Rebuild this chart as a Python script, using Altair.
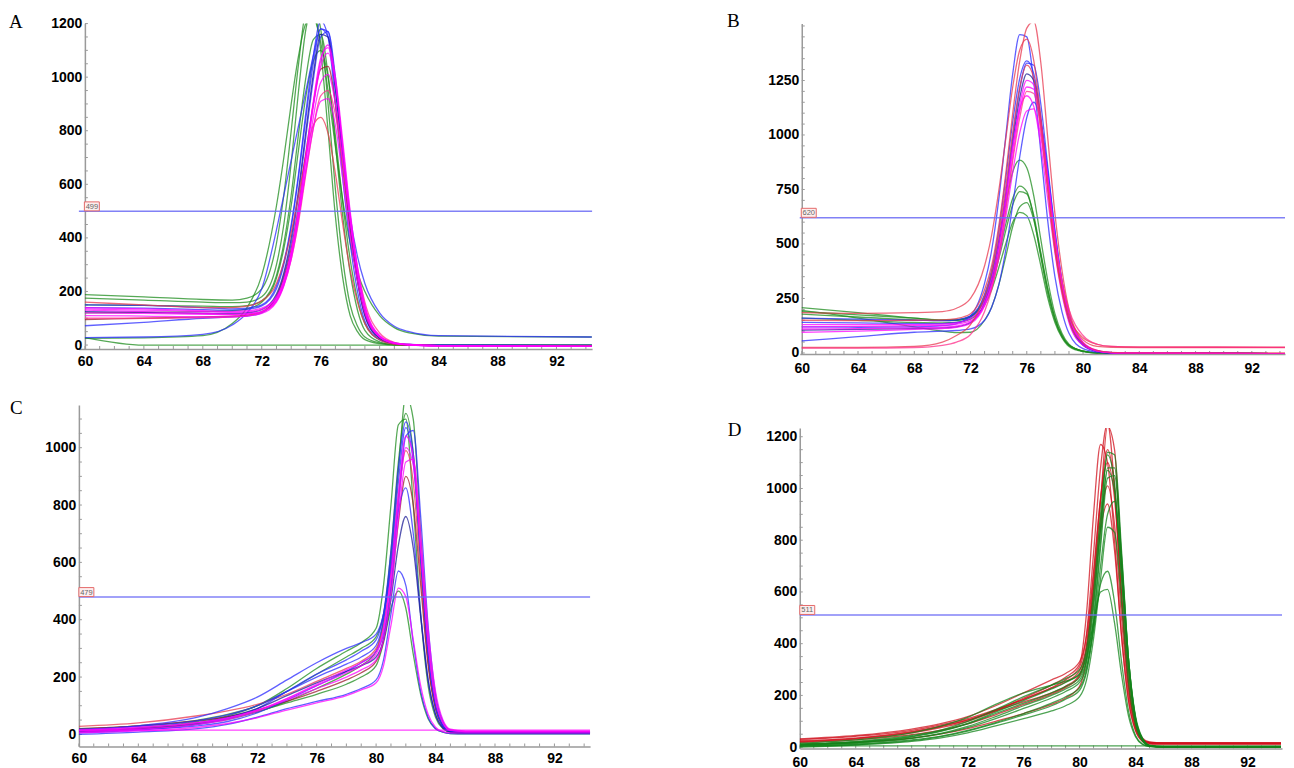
import altair as alt
import pandas as pd

# ---------------- temperature grids ----------------
T_AB = [60, 64, 68, 70, 71, 72, 73, 73.5, 74, 74.5, 75, 75.5, 76, 76.5, 77, 77.5, 78, 78.5, 79, 80, 81, 82, 84, 94.4]
T_CD = [60, 64, 68, 70, 72, 74, 76, 78, 79, 80, 80.5, 81, 81.5, 82, 82.5, 83, 83.5, 84, 84.5, 85, 86, 94.4]

X_TICKS = [60, 64, 68, 72, 76, 80, 84, 88, 92]
X_MINOR = list(range(60, 95))
A_YTICKS = [0, 200, 400, 600, 800, 1000, 1200]
B_YTICKS = [0, 250, 500, 750, 1000, 1250]
C_YTICKS = [0, 200, 400, 600, 800, 1000]
D_YTICKS = [0, 200, 400, 600, 800, 1000, 1200]
A_YMINOR = list(range(0, 1201, 50))
B_YMINOR = list(range(0, 1501, 50))
C_YMINOR = list(range(0, 1101, 50))
D_YMINOR = list(range(0, 1201, 50))

A_THRESHOLD = 499
B_THRESHOLD = 620
C_THRESHOLD = 479
D_THRESHOLD = 511

# ---------------- panel A curves ----------------
A_g1 = [188, 180, 170, 168, 175, 210, 380, 560, 800, 1050, 1240, 1250, 1100, 800, 480, 250, 110, 50, 20, 5, 0, 0, 0, 0]
A_g2 = [175, 168, 160, 158, 160, 180, 300, 450, 680, 950, 1180, 1260, 1180, 900, 580, 320, 150, 70, 30, 8, 2, 0, 0, 0]
A_g3 = [25, 27, 35, 80, 140, 260, 520, 700, 900, 1080, 1200, 1220, 1130, 950, 740, 540, 380, 270, 200, 110, 65, 45, 33, 30]
A_g4 = [28, 0, 0, 0, 0, 0, 0, 0, 0, 0, 0, 0, 0, 0, 0, 0, 0, 0, 0, 0, 0, 0, 0, 0]
A_g5 = [120, 122, 125, 128, 135, 160, 250, 360, 520, 730, 930, 1060, 1100, 1000, 780, 530, 320, 170, 80, 20, 5, 0, -1, -2]
A_g6 = [150, 148, 145, 143, 147, 165, 260, 380, 560, 790, 1000, 1140, 1160, 1010, 750, 480, 270, 130, 55, 12, 2, 0, -1, -2]
A_b1 = [28, 30, 40, 75, 120, 210, 430, 560, 690, 820, 950, 1080, 1180, 1150, 950, 700, 480, 330, 230, 120, 70, 50, 35, 30]
A_b2 = [150, 148, 140, 135, 138, 150, 220, 310, 450, 640, 870, 1080, 1210, 1150, 900, 620, 380, 200, 90, 20, 5, 2, 0, 0]
A_b3 = [72, 85, 100, 105, 108, 120, 180, 260, 380, 560, 780, 990, 1150, 1170, 1000, 720, 450, 250, 120, 30, 8, 2, 0, -3]
A_b5 = [140, 138, 132, 130, 133, 146, 210, 300, 440, 630, 850, 1050, 1180, 1170, 980, 710, 450, 240, 110, 25, 5, 1, -2, -4]
A_n1 = [125, 122, 118, 117, 120, 132, 190, 270, 400, 580, 800, 1010, 1160, 1150, 960, 700, 440, 240, 110, 25, 5, 0, -2, -4]
A_m1 = [130, 125, 118, 115, 117, 125, 170, 230, 340, 500, 700, 900, 1060, 1120, 1000, 760, 500, 290, 150, 35, 8, 2, -2, -5]
A_m2 = [110, 108, 105, 105, 108, 118, 160, 220, 320, 470, 660, 850, 980, 1010, 900, 690, 460, 270, 140, 35, 8, 2, -2, -5]
A_m3 = [140, 135, 128, 125, 128, 138, 180, 240, 340, 480, 650, 810, 910, 920, 820, 620, 410, 240, 120, 30, 6, 0, -3, -5]
A_m4 = [100, 100, 102, 105, 110, 122, 165, 225, 320, 460, 640, 810, 930, 950, 860, 680, 470, 290, 160, 45, 10, 2, -2, -4]
A_m5 = [120, 118, 115, 113, 115, 124, 165, 225, 330, 490, 690, 890, 1040, 1090, 980, 740, 490, 280, 140, 32, 7, 1, -3, -5]
A_m6 = [135, 130, 125, 122, 124, 133, 175, 240, 350, 510, 710, 910, 1070, 1110, 980, 730, 470, 270, 135, 30, 6, 1, -3, -5]
A_r1 = [160, 150, 140, 140, 145, 165, 230, 310, 420, 560, 710, 820, 850, 790, 640, 450, 280, 160, 80, 20, 3, 0, -2, -3]
A_dr1 = [95, 100, 105, 108, 112, 125, 180, 250, 360, 520, 720, 900, 1030, 1040, 900, 660, 420, 240, 120, 30, 6, 0, -2, -3]

# ---------------- panel B curves ----------------
B_r1 = [185, 182, 185, 190, 205, 250, 400, 540, 740, 980, 1220, 1390, 1440, 1340, 1080, 760, 480, 290, 170, 70, 40, 30, 27, 26]
B_r2 = [150, 148, 150, 152, 158, 180, 290, 400, 580, 820, 1100, 1340, 1490, 1520, 1330, 980, 640, 380, 200, 60, 30, 26, 25, 25]
B_r3 = [25, 25, 30, 50, 80, 130, 260, 370, 540, 760, 1010, 1220, 1320, 1260, 1030, 740, 470, 280, 150, 45, 12, 3, 0, 0]
B_p1 = [22, 22, 25, 35, 50, 85, 190, 290, 440, 650, 880, 1080, 1200, 1190, 1020, 770, 520, 330, 200, 80, 40, 30, 27, 26]
B_b1 = [120, 118, 120, 125, 135, 170, 320, 470, 700, 990, 1280, 1460, 1450, 1240, 920, 600, 350, 190, 90, 20, 4, 0, 0, -3]
B_b2 = [140, 138, 135, 135, 140, 160, 250, 350, 510, 730, 990, 1210, 1330, 1320, 1140, 850, 560, 330, 180, 45, 10, 2, 0, -3]
B_b3 = [55, 75, 95, 100, 103, 110, 150, 210, 310, 470, 680, 900, 1080, 1150, 1060, 830, 560, 330, 170, 40, 8, 0, 0, -3]
B_b5 = [160, 155, 150, 148, 152, 170, 270, 380, 560, 800, 1060, 1260, 1340, 1280, 1080, 790, 510, 300, 160, 40, 8, 1, 0, -3]
B_n1 = [105, 108, 112, 115, 120, 140, 230, 330, 490, 710, 960, 1170, 1280, 1250, 1060, 780, 500, 290, 150, 35, 7, 0, 0, -3]
B_m1 = [95, 100, 108, 112, 118, 135, 215, 305, 450, 660, 900, 1110, 1220, 1210, 1050, 800, 540, 330, 180, 50, 12, 2, 0, -3]
B_m2 = [120, 122, 125, 127, 132, 148, 220, 300, 430, 620, 830, 1010, 1110, 1120, 990, 760, 510, 310, 170, 45, 10, 2, 0, -3]
B_m3 = [130, 130, 130, 132, 138, 158, 240, 340, 500, 720, 950, 1120, 1180, 1130, 950, 700, 460, 270, 140, 35, 8, 1, 0, -3]
B_m4 = [110, 112, 115, 118, 124, 142, 225, 320, 470, 690, 930, 1140, 1250, 1230, 1060, 800, 530, 320, 170, 45, 10, 2, 0, -3]
B_g1 = [208, 185, 160, 150, 150, 165, 250, 330, 450, 590, 710, 765, 740, 620, 440, 270, 150, 75, 35, 8, 0, 0, 0, -3]
B_g2 = [195, 160, 120, 100, 93, 95, 150, 210, 310, 440, 580, 670, 690, 610, 450, 290, 160, 80, 35, 8, 0, 0, 0, -3]
B_g3 = [178, 165, 152, 148, 150, 168, 260, 360, 510, 680, 830, 885, 850, 720, 520, 330, 180, 90, 40, 8, 0, 0, 0, -3]
B_g4 = [160, 150, 140, 138, 140, 155, 220, 290, 390, 500, 600, 645, 630, 540, 400, 250, 140, 70, 30, 6, 0, 0, 0, -3]
B_g5 = [190, 175, 160, 152, 152, 168, 240, 320, 430, 560, 680, 740, 730, 630, 460, 290, 160, 80, 35, 8, 0, 0, 0, -3]

# ---------------- panel C curves ----------------
C_g1 = [20, 30, 50, 70, 100, 150, 210, 270, 300, 340, 420, 620, 920, 1180, 1100, 700, 330, 120, 40, 15, 10, 10]
C_g2 = [10, 22, 45, 65, 100, 160, 230, 290, 320, 370, 520, 800, 1080, 1100, 800, 420, 170, 60, 20, 8, 5, 5]
C_g3 = [12, 22, 38, 55, 80, 110, 140, 175, 200, 240, 320, 440, 500, 440, 280, 140, 55, 20, 8, 3, 2, 2]
C_g4 = [8, 18, 36, 52, 78, 115, 160, 210, 240, 290, 400, 640, 950, 1120, 980, 600, 260, 90, 28, 9, 5, 5]
C_b1 = [5, 15, 35, 55, 90, 150, 210, 260, 290, 330, 420, 640, 930, 1090, 980, 620, 280, 100, 30, 10, 5, 5]
C_b2 = [10, 18, 30, 45, 75, 120, 170, 220, 250, 290, 350, 520, 800, 1040, 1060, 760, 380, 140, 45, 15, 8, 8]
C_b3 = [0, 8, 20, 35, 60, 90, 115, 140, 160, 190, 260, 420, 570, 520, 320, 150, 60, 20, 8, 3, 2, 2]
C_b4 = [15, 30, 60, 90, 130, 190, 250, 300, 320, 350, 420, 580, 780, 860, 700, 420, 190, 70, 25, 10, 6, 6]
C_b5 = [18, 28, 48, 68, 100, 150, 200, 245, 270, 310, 400, 600, 880, 1070, 950, 620, 290, 105, 32, 10, 6, 6]
C_n1 = [10, 20, 40, 60, 90, 135, 180, 220, 240, 270, 330, 470, 660, 760, 650, 410, 190, 70, 22, 8, 5, 5]
C_m1 = [8, 18, 35, 52, 80, 125, 175, 225, 250, 290, 370, 560, 840, 1040, 970, 650, 320, 120, 40, 15, 10, 10]
C_m2 = [15, 25, 42, 58, 85, 120, 160, 200, 225, 260, 330, 490, 750, 950, 960, 700, 370, 150, 50, 18, 12, 12]
C_m3 = [15, 15, 15, 15, 15, 15, 15, 15, 15, 15, 15, 15, 15, 15, 15, 15, 15, 15, 15, 15, 15, 15]
C_m4 = [5, 12, 25, 38, 58, 85, 110, 135, 155, 180, 240, 380, 510, 480, 330, 170, 70, 25, 10, 5, 5, 5]
C_m5 = [12, 22, 40, 56, 84, 125, 170, 215, 240, 280, 360, 540, 800, 1000, 940, 640, 320, 120, 40, 14, 10, 10]
C_r1 = [28, 40, 65, 82, 105, 140, 185, 230, 255, 300, 380, 570, 830, 990, 880, 560, 260, 95, 30, 10, 6, 6]
C_r2 = [20, 30, 48, 62, 85, 115, 150, 190, 215, 255, 330, 500, 740, 900, 800, 520, 240, 90, 30, 10, 8, 8]

# ---------------- panel D curves ----------------
D_r1 = [25, 35, 60, 80, 105, 140, 175, 210, 235, 280, 380, 620, 950, 1240, 1150, 700, 300, 100, 35, 20, 16, 15]
D_r2 = [30, 42, 65, 85, 110, 145, 185, 230, 260, 310, 440, 750, 1080, 1250, 1000, 560, 230, 80, 30, 18, 15, 15]
D_r3 = [20, 32, 55, 75, 100, 140, 190, 240, 270, 320, 520, 900, 1170, 1100, 800, 430, 180, 65, 25, 16, 15, 15]
D_r4 = [18, 28, 48, 65, 90, 125, 165, 205, 230, 275, 380, 620, 880, 1010, 860, 500, 210, 75, 28, 15, 14, 14]
D_r5 = [10, 18, 35, 50, 72, 100, 130, 165, 190, 235, 340, 580, 840, 940, 760, 430, 180, 65, 22, 12, 10, 10]
D_r6 = [32, 45, 70, 90, 118, 160, 210, 260, 285, 330, 430, 680, 960, 1100, 960, 590, 250, 85, 30, 17, 15, 15]
D_r7 = [22, 34, 58, 78, 104, 142, 185, 228, 252, 295, 400, 660, 960, 1150, 1000, 600, 250, 85, 30, 17, 15, 15]
D_g1 = [8, 18, 40, 60, 90, 130, 170, 210, 235, 270, 340, 540, 850, 1140, 1130, 760, 340, 110, 30, 6, 2, 0]
D_g2 = [12, 22, 45, 65, 100, 145, 195, 240, 265, 300, 380, 600, 900, 1130, 1020, 660, 300, 100, 28, 5, 1, 0]
D_g3 = [5, 12, 28, 42, 65, 95, 130, 170, 195, 230, 300, 480, 770, 1040, 1050, 730, 340, 115, 32, 6, 1, 0]
D_g4 = [3, 10, 25, 40, 62, 92, 125, 160, 185, 220, 290, 450, 630, 680, 560, 330, 140, 45, 12, 3, 0, 0]
D_g5 = [15, 28, 55, 80, 115, 165, 210, 240, 255, 280, 350, 480, 600, 610, 480, 280, 120, 40, 10, 2, 0, 0]
D_g6 = [10, 18, 35, 50, 75, 110, 150, 190, 215, 250, 310, 460, 700, 900, 950, 700, 340, 120, 35, 8, 2, 0]
D_g7 = [5, 5, 5, 5, 5, 5, 5, 5, 5, 5, 5, 5, 5, 5, 5, 5, 5, 5, 5, 5, 5, 5]
D_g8 = [0, 8, 22, 35, 55, 82, 110, 140, 160, 195, 260, 420, 650, 850, 830, 560, 250, 85, 22, 4, 0, 0]
D_g9 = [6, 15, 34, 52, 80, 118, 160, 200, 225, 260, 330, 500, 800, 1080, 1080, 740, 340, 112, 30, 6, 1, 0]
D_g10 = [10, 20, 42, 62, 92, 135, 180, 225, 250, 285, 360, 560, 850, 1070, 990, 650, 300, 100, 28, 5, 1, 0]

A_CURVES = [("A_g1", "green", A_g1), ("A_g2", "green", A_g2), ("A_g3", "green", A_g3),
            ("A_g4", "green", A_g4), ("A_g5", "green", A_g5), ("A_g6", "green", A_g6),
            ("A_b1", "blue", A_b1), ("A_b2", "blue", A_b2), ("A_b3", "blue", A_b3),
            ("A_b5", "blue", A_b5), ("A_n1", "navy", A_n1),
            ("A_r1", "red", A_r1), ("A_dr1", "darkred", A_dr1), ("A_m4", "pink", A_m4),
            ("A_m1", "magenta", A_m1), ("A_m2", "magenta", A_m2), ("A_m3", "magenta", A_m3),
            ("A_m5", "magenta", A_m5), ("A_m6", "magenta", A_m6)]
B_CURVES = [("B_g1", "green", B_g1), ("B_g2", "green", B_g2), ("B_g3", "green", B_g3),
            ("B_g4", "green", B_g4), ("B_g5", "green", B_g5), ("B_b1", "blue", B_b1),
            ("B_b2", "blue", B_b2), ("B_b3", "blue", B_b3), ("B_b5", "blue", B_b5),
            ("B_n1", "navy", B_n1), ("B_m1", "magenta", B_m1), ("B_m2", "magenta", B_m2),
            ("B_m3", "magenta", B_m3), ("B_m4", "magenta", B_m4), ("B_r1", "red", B_r1),
            ("B_r2", "red", B_r2), ("B_r3", "red", B_r3), ("B_p1", "pink", B_p1)]
C_CURVES = [("C_g1", "green", C_g1), ("C_g2", "green", C_g2), ("C_g3", "green", C_g3),
            ("C_g4", "green", C_g4), ("C_r1", "red", C_r1), ("C_r2", "darkred", C_r2),
            ("C_b1", "blue", C_b1), ("C_b2", "blue", C_b2), ("C_b3", "blue", C_b3),
            ("C_b4", "blue", C_b4), ("C_b5", "blue", C_b5), ("C_n1", "navy", C_n1),
            ("C_m1", "magenta", C_m1), ("C_m2", "magenta", C_m2), ("C_m3", "magenta", C_m3),
            ("C_m4", "magenta", C_m4), ("C_m5", "magenta", C_m5)]
D_CURVES = [("D_r1", "dred", D_r1), ("D_r2", "dred", D_r2), ("D_r3", "dred", D_r3),
            ("D_r4", "dred", D_r4), ("D_r5", "dred", D_r5), ("D_r6", "dred", D_r6),
            ("D_r7", "dred", D_r7), ("D_g1", "dgreen", D_g1), ("D_g2", "dgreen", D_g2),
            ("D_g3", "dgreen", D_g3), ("D_g4", "dgreen", D_g4), ("D_g5", "dgreen", D_g5),
            ("D_g6", "dgreen", D_g6), ("D_g7", "dgreen", D_g7), ("D_g8", "dgreen", D_g8),
            ("D_g9", "dgreen", D_g9), ("D_g10", "dgreen", D_g10)]

PALETTE = {
    "green": "#1e8c1e", "blue": "#2b2bff", "navy": "#1c1c96", "magenta": "#ff00ff",
    "pink": "#ff2d8a", "red": "#e8384f", "darkred": "#9c1c2c",
    "dred": "#d0101c", "dgreen": "#12841a",
}

BOX_PATH = "M -1 -0.6 L 1 -0.6 L 1 0.6 L -1 0.6 Z"
AXIS_GREY = "#9a9a9a"


def build_df(curves, temps):
    rows = []
    for name, grp, vals in curves:
        for t, v in zip(temps, vals):
            rows.append({"curve": name, "grp": grp, "T": t, "F": v})
    return pd.DataFrame(rows)


def panel(letter, curves, temps, xdom, ydom, yticks, yminor, w, h, thr, yoff, box_cx, letter_xy, xpad):
    df = build_df(curves, temps)
    xax = alt.Axis(values=X_TICKS, title=None, grid=False, ticks=False, tickSize=0, labelPadding=xpad,
                   format="d", domainColor=AXIS_GREY, domainWidth=1.5, labelFlush=False)
    yax = alt.Axis(values=yticks, title=None, grid=False, ticks=False, tickSize=0, labelPadding=3,
                   offset=yoff, format="d", domainColor=AXIS_GREY, domainWidth=1.5, labelFlush=False)
    xs = alt.Scale(domain=xdom, nice=False, zero=False)
    ys = alt.Scale(domain=ydom, nice=False, zero=False)
    color = alt.Color("grp:N", scale=alt.Scale(domain=list(PALETTE.keys()), range=list(PALETTE.values())),
                      legend=None)
    lines = alt.Chart(df).mark_line(interpolate="monotone", clip=True, strokeWidth=1.3, opacity=0.75).encode(
        x=alt.X("T:Q", scale=xs, axis=xax),
        y=alt.Y("F:Q", scale=ys, axis=yax),
        color=color,
        detail="curve:N",
    )
    # inward tick marks on both axes
    xt = alt.Chart(pd.DataFrame({"v": X_MINOR})).mark_tick(
        orient="vertical", size=3, thickness=1, color=AXIS_GREY, opacity=1
    ).encode(x=alt.X("v:Q", scale=xs, axis=xax), y=alt.value(h - 1.5))
    yt = alt.Chart(pd.DataFrame({"v": yminor})).mark_tick(
        orient="horizontal", size=3, thickness=1, color=AXIS_GREY, opacity=1
    ).encode(y=alt.Y("v:Q", scale=ys, axis=yax), x=alt.value(-yoff + 1.5))

    thr_df = pd.DataFrame({"thr": [thr], "lab": [str(thr)]})
    ythr = alt.Y("thr:Q", scale=ys, axis=yax)
    rule = alt.Chart(thr_df).mark_rule(color="#6b6bf5", strokeWidth=1.5, opacity=0.85).encode(y=ythr)
    box = alt.Chart(thr_df).mark_point(shape=BOX_PATH, size=225, filled=True, fill="#fdeeee",
                                       stroke="#e46a6a", strokeWidth=1, opacity=1, yOffset=-5).encode(
        x=alt.value(box_cx), y=ythr
    )
    boxtext = alt.Chart(thr_df).mark_text(fontSize=7.5, color="#666666", yOffset=-4.5,
                                          font="Liberation Sans").encode(
        x=alt.value(box_cx), y=ythr, text="lab:N"
    )
    let = alt.Chart(pd.DataFrame({"lab": [letter]})).mark_text(
        font="Liberation Serif", fontSize=19, align="left", baseline="alphabetic", color="black"
    ).encode(x=alt.value(letter_xy[0]), y=alt.value(letter_xy[1]), text="lab:N")
    return alt.layer(xt, yt, lines, rule, box, boxtext, let).properties(width=w, height=h)


pA = panel("A", A_CURVES, T_AB, [59.59, 94.42], [-15, 1200], A_YTICKS, A_YMINOR, 514, 326,
           A_THRESHOLD, -6, 13, (-70, 4), 5)
pB = panel("B", B_CURVES, T_AB, [59.858, 94.36], [-5, 1511], B_YTICKS, B_YMINOR, 486, 331,
           B_THRESHOLD, -2, 9, (-73, 3), 7)
pC = panel("C", C_CURVES, T_CD, [60, 94.4], [-42, 1149], C_YTICKS, C_YMINOR, 512, 342,
           C_THRESHOLD, 0, 7.5, (-69, 9), 5)
pD = panel("D", D_CURVES, T_CD, [60, 94.47], [-5, 1234], D_YTICKS, D_YMINOR, 483, 321,
           D_THRESHOLD, 0, 7.5, (-72, 8), 7)

colL = alt.vconcat(pA, pC, spacing=56, bounds="flush")
colR = alt.vconcat(pB, pD, spacing=74, bounds="flush")

chart = alt.hconcat(colL, colR, spacing=134).properties(
    padding={"left": 1, "top": 3, "right": 0, "bottom": 0}
).configure_view(strokeWidth=0).configure_axis(
    labelFont="Liberation Sans", labelFontWeight="bold", labelFontSize=14, labelColor="#000000"
)

chart.save("out.html", embed_options={"renderer": "svg", "actions": False})
